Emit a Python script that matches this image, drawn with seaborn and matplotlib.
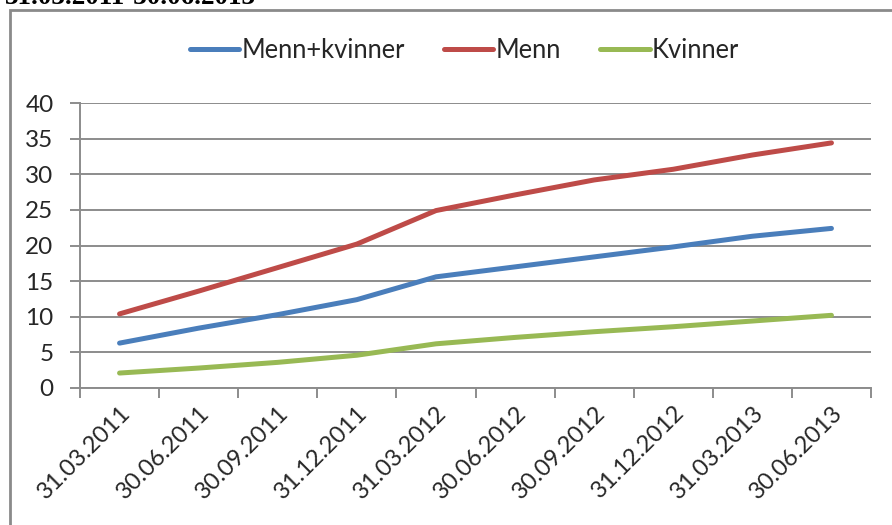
import matplotlib
matplotlib.use("Agg")
import matplotlib.pyplot as plt
import seaborn as sns
import pandas as pd
import numpy as np
from matplotlib.patches import Rectangle
from matplotlib.ticker import FixedLocator, MultipleLocator

dates = ["31.03.2011", "30.06.2011", "30.09.2011", "31.12.2011", "31.03.2012",
         "30.06.2012", "30.09.2012", "31.12.2012", "31.03.2013", "30.06.2013"]
menn_kvinner = [6.3, 8.4, 10.3, 12.4, 15.6, 17.0, 18.4, 19.8, 21.3, 22.4]
menn = [10.4, 13.6, 16.9, 20.2, 24.9, 27.1, 29.2, 30.7, 32.7, 34.4]
kvinner = [2.1, 2.8, 3.6, 4.6, 6.2, 7.1, 7.9, 8.6, 9.4, 10.2]
series_names = ["Menn+kvinner", "Menn", "Kvinner"]
colors = ["#4A7EBB", "#BE4B48", "#98B954"]
title = "31.03.2011-30.06.2013"

df = pd.DataFrame({
    "dato": dates * 3,
    "verdi": menn_kvinner + menn + kvinner,
    "serie": [series_names[0]] * 10 + [series_names[1]] * 10 + [series_names[2]] * 10,
})

sns.set_theme(style="white")
plt.rcParams["font.family"] = ["Lato", "DejaVu Sans"]

fig = plt.figure(figsize=(8.92, 5.25), dpi=100)
ax = fig.add_axes([80 / 892, 1 - 388 / 525, (871 - 80) / 892, (388 - 103) / 525])

sns.lineplot(data=df, x="dato", y="verdi", hue="serie", palette=colors,
             hue_order=series_names, linewidth=3.6, ax=ax, sort=False,
             solid_capstyle="round")

grid_c = "#8c8c8c"
ax.set_xlim(-0.5, 9.5)
ax.set_ylim(0, 40)
ax.yaxis.set_major_locator(MultipleLocator(5))
ax.grid(axis="y", color=grid_c, linewidth=1.4)
ax.set_axisbelow(True)
for s in ["top", "right"]:
    ax.spines[s].set_visible(False)
for s in ["left", "bottom"]:
    ax.spines[s].set_color(grid_c)
    ax.spines[s].set_linewidth(1.4)

ax.set_xlabel("")
ax.set_ylabel("")
ax.set_xticks(range(len(dates)))
ax.set_xticklabels(dates, rotation=45, ha="right", va="top", rotation_mode="anchor",
                   fontsize=17)
ax.tick_params(axis="x", which="major", length=0, pad=10)
ax.xaxis.set_minor_locator(FixedLocator(np.arange(-0.5, 10, 1.0)))
ax.tick_params(axis="x", which="minor", length=7, width=1.4, color=grid_c, bottom=True)
ax.tick_params(axis="y", length=7, width=1.4, color=grid_c, left=True, labelsize=17.5, pad=12)

leg = ax.legend(loc="upper center", bbox_to_anchor=(0.5 - 0.014, 1.31), ncol=3,
                frameon=False, fontsize=18.4, handlelength=1.95, handletextpad=0.1,
                columnspacing=1.5)
for line in leg.get_lines():
    line.set_linewidth(3.6)
    line.set_solid_capstyle("round")

fig.patches.append(Rectangle((10 / 892, -0.1), 1.0, 1 - 10 / 525 + 0.1,
                             transform=fig.transFigure, fill=False,
                             edgecolor="#8a8a8a", linewidth=2, clip_on=False))
fig.text(5 / 892, 1 - 4 / 525, title, family="Liberation Serif", weight="bold",
         fontsize=19.5, ha="left", va="baseline", color="black")

fig.savefig("out.png", dpi=100)
